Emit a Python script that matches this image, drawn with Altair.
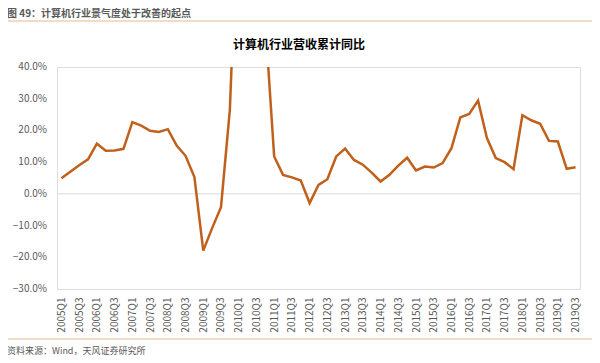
import altair as alt
import pandas as pd

quarters = [f"{y}Q{q}" for y in range(2005, 2020) for q in range(1, 5)][:59]
growth = [4.9, 7.0, 9.0, 10.9, 15.8, 13.6, 13.7, 14.2,
          22.6, 21.5, 19.9, 19.5, 20.4, 15.2, 12.0, 5.3,
          -17.9, -10.8, -4.2, 26.5, 98.0, 95.0, 80.0, 54.0,
          11.8, 6.0, 5.2, 4.2, -2.9, 2.8, 4.6, 11.8,
          14.3, 10.7, 9.2, 6.7, 3.9, 6.0, 8.9, 11.4,
          7.4, 8.6, 8.3, 9.7, 14.4, 24.1, 25.2, 29.4,
          17.6, 11.3, 10.0, 7.8, 24.8, 23.2, 22.1, 16.7,
          16.5, 7.9, 8.4]
label_quarters = quarters[::2]
y_ticks = [-30, -20, -10, 0, 10, 20, 30, 40]

header = "图 49：计算机行业景气度处于改善的起点"
title = "计算机行业营收累计同比"
source = "资料来源：Wind，天风证券研究所"

FONT = "Noto Sans CJK SC"
LINE_COLOR = "#C0601A"

df = pd.DataFrame({"quarter": quarters, "growth": growth})

W, H = 523, 222

x_enc = alt.X("quarter:O", sort=quarters,
              scale=alt.Scale(type="point", padding=0.5),
              axis=alt.Axis(values=label_quarters, labelAngle=270, labelAlign="right",
                            labelBaseline="middle", labelPadding=8, ticks=False, domain=False,
                            grid=False, title=None, labelFont=FONT, labelFontSize=10,
                            labelColor="#595959"))
y_scale = alt.Scale(domain=[-30, 40], nice=False, zero=False)

zero = alt.Chart(pd.DataFrame({"z": [0]})).mark_rule(color="#D9D9D9", strokeWidth=1).encode(
    y=alt.Y("z:Q", scale=y_scale, axis=None))

line = alt.Chart(df).mark_line(color=LINE_COLOR, strokeWidth=2.5, clip=True).encode(
    x=x_enc, y=alt.Y("growth:Q", scale=y_scale, axis=None))

ylabels = alt.Chart(pd.DataFrame({"v": y_ticks})).transform_calculate(
    lab="format(datum.v, '.1f') + '%'"
).mark_text(align="right", baseline="middle", font=FONT, fontSize=10, color="#595959").encode(
    y=alt.Y("v:Q", scale=y_scale, axis=None), text="lab:N", x=alt.value(-10))

one = pd.DataFrame({"t": [0]})
header_txt = alt.Chart(pd.DataFrame({"t": [header]})).mark_text(
    align="left", baseline="middle", font=FONT, fontSize=10, fontWeight="bold", color="#595959"
).encode(text="t:N", x=alt.value(-50), y=alt.value(-53))
header_rule = alt.Chart(one).mark_rule(color="#F3DCC6", strokeWidth=2).encode(
    x=alt.value(-57), x2=alt.value(535), y=alt.value(-46))
title_txt = alt.Chart(pd.DataFrame({"t": [title]})).mark_text(
    align="center", baseline="middle", font=FONT, fontSize=12, fontWeight="bold", color="#000000"
).encode(text="t:N", x=alt.value(242), y=alt.value(-22))
footer_rule = alt.Chart(one).mark_rule(color="#F3DCC6", strokeWidth=2).encode(
    x=alt.value(-57), x2=alt.value(535), y=alt.value(272))
footer_txt = alt.Chart(pd.DataFrame({"t": [source]})).mark_text(
    align="left", baseline="middle", font=FONT, fontSize=9, color="#595959"
).encode(text="t:N", x=alt.value(-50), y=alt.value(284))

chart = alt.layer(zero, line, ylabels, header_txt, header_rule, title_txt, footer_rule, footer_txt).properties(
    width=W, height=H,
    autosize=alt.AutoSizeParams(type="none"),
    padding={"left": 49, "top": 59, "right": 12, "bottom": 66},
).configure_view(strokeWidth=0).configure(background="white")

chart.save("out.html", embed_options={"renderer": "svg", "actions": False})
